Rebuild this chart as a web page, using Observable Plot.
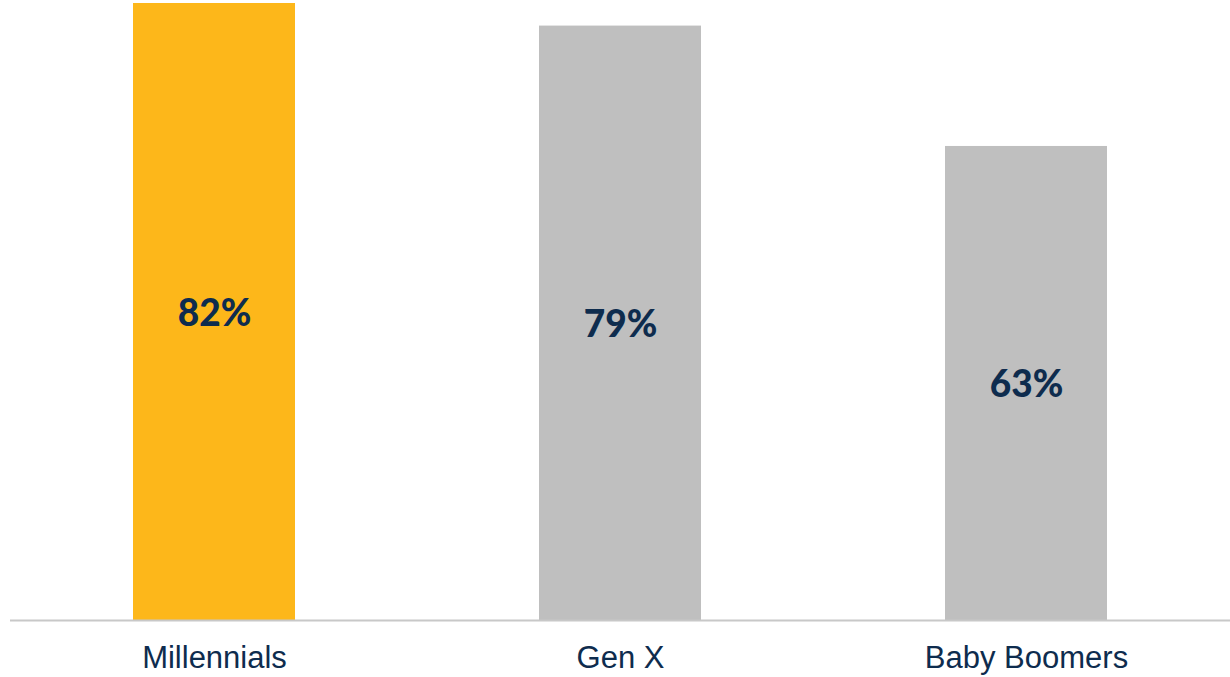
<!DOCTYPE html>
<html>
<head>
<meta charset="utf-8">
<script src="https://cdn.jsdelivr.net/npm/d3@7"></script>
<script src="https://cdn.jsdelivr.net/npm/@observablehq/plot@0.6"></script>
<style>
  html, body { margin: 0; padding: 0; background: #fff; }
  #chart { width: 1230px; height: 677px; overflow: hidden; }
</style>
</head>
<body>
<div id="chart"></div>
<script>
const categories = ["Millennials", "Gen X", "Baby Boomers"];
const values = [82, 79, 63];
const barColors = ["#FDB71A", "#BFBFBF", "#BFBFBF"];

const data = categories.map((c, i) => ({ category: c, value: values[i], color: barColors[i] }));

const chart = Plot.plot({
  width: 1230,
  height: 677,
  marginTop: 3,
  marginBottom: 57,
  marginLeft: 10,
  marginRight: 0,
  style: { background: "#fff", fontFamily: "'Liberation Sans', Arial, sans-serif" },
  x: { domain: categories, paddingInner: 0.6, paddingOuter: 0.3, label: null },
  y: { domain: [0, 82], axis: null },
  marks: [
    Plot.barY(data, { x: "category", y: "value", fill: "color" }),
    Plot.ruleY([0], { stroke: "#C8C8C8", strokeWidth: 2 }),
    Plot.text(data, {
      x: "category",
      y: d => d.value / 2,
      text: d => `${d.value}%`,
      fill: "#0E2C4E",
      fontSize: 37,
      fontWeight: 900,
      dy: 2,
      fontFamily: "Lato, sans-serif"
    }),
    Plot.axisX({
      tickSize: 0,
      tickPadding: 25,
      fontSize: 31,
      fill: "#0E2C4E",
      label: null
    })
  ]
});
document.getElementById("chart").appendChild(chart);
</script>
</body>
</html>
